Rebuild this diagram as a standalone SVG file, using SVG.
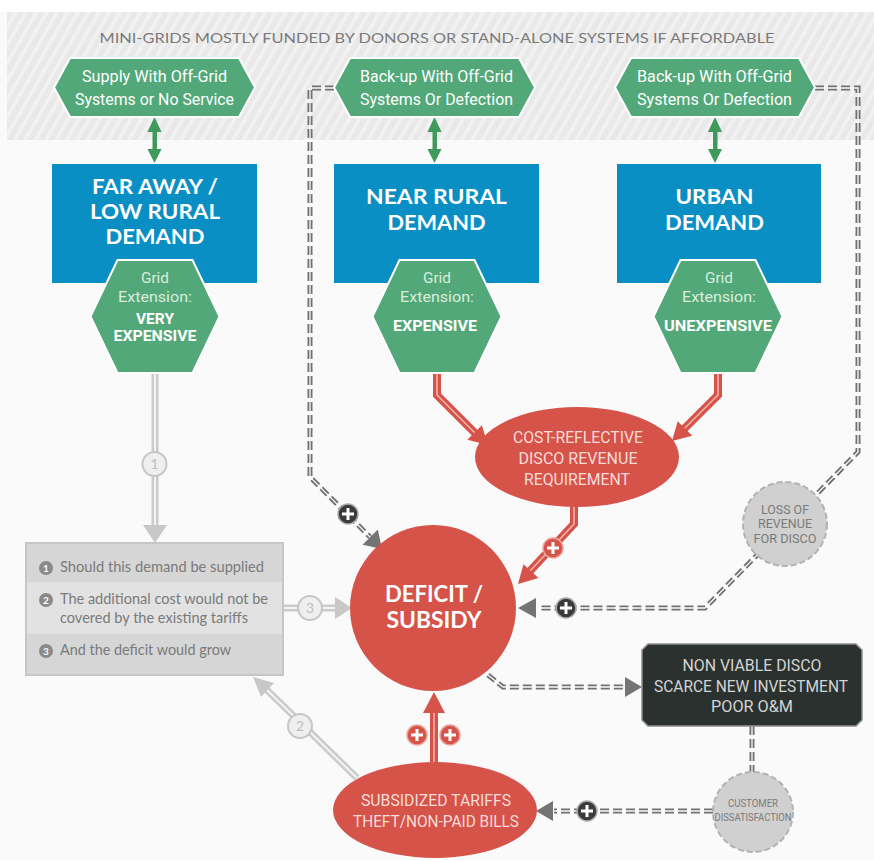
<svg xmlns="http://www.w3.org/2000/svg" width="874" height="860" viewBox="0 0 874 860">
<defs>
<pattern id="hatch" width="9" height="9" patternUnits="userSpaceOnUse" patternTransform="rotate(30)">
<rect width="9" height="9" fill="#e9e9e9"/>
<rect width="3.5" height="9" fill="#f2f2f2"/>
</pattern>
<style>
.cond{font-family:Roboto,"Liberation Sans",sans-serif;}
.sans{font-family:Lato,"Open Sans","Liberation Sans",sans-serif;}
.hexT{fill:#ffffff;font-size:16px;text-anchor:middle;}
.boxT{fill:#ffffff;font-size:21px;font-weight:bold;text-anchor:middle;}
.gridT{fill:#d9eedd;font-size:15px;text-anchor:middle;}
.gridB{fill:#ffffff;font-size:15px;font-weight:bold;text-anchor:middle;}
.redT{fill:#f7dcd8;font-size:16px;text-anchor:middle;}
.grayT{fill:#7a7a7a;font-size:15px;}
.num{fill:#8a8a8a;}
.numT{fill:#ffffff;font-size:10px;font-weight:bold;text-anchor:middle;}
.dashO{fill:none;stroke:#717171;stroke-width:5;stroke-dasharray:9 4;}
.dashI{fill:none;stroke:#fafafa;stroke-width:1.3;}
.redO{fill:none;stroke:#d6534a;stroke-width:8;}
.redI{fill:none;stroke:#f1b2aa;stroke-width:1.6;}
.grayO{fill:none;stroke:#cbcbcb;stroke-width:7;}
.grayI{fill:none;stroke:#f4f4f4;stroke-width:2;}
.plusD{fill:#393c3b;stroke:#a9a9a9;stroke-width:1.5;}
.plusR{fill:#d6534a;stroke:#eca39b;stroke-width:1.5;}
.plusL{stroke:#ffffff;stroke-width:3;}
.lab{fill:#efefef;stroke:#c6c6c6;stroke-width:2;}
.labT{fill:#bdbdbd;font-size:14px;text-anchor:middle;}
</style>
</defs>
<rect width="874" height="860" fill="#fafafa"/>
<rect x="0" y="0" width="874" height="12" fill="#ffffff"/>
<rect x="7" y="12" width="867" height="128" fill="url(#hatch)"/>
<text x="437" y="43" class="sans" fill="#7a7a7a" font-size="13.5" text-anchor="middle" textLength="675" lengthAdjust="spacingAndGlyphs">MINI-GRIDS MOSTLY FUNDED BY DONORS OR STAND-ALONE SYSTEMS IF AFFORDABLE</text>

<g id="connectors">
<!-- green double arrows -->
<g fill="#3f9a5c" stroke="none">
<rect x="152.5" y="130" width="4.5" height="21"/>
<polygon points="147.5,132 161.5,132 154.5,117"/>
<polygon points="147.5,149 161.5,149 154.5,163"/>
<rect x="432.5" y="130" width="4.5" height="21"/>
<polygon points="427.5,132 441.5,132 434.5,117"/>
<polygon points="427.5,149 441.5,149 434.5,163"/>
<rect x="713" y="130" width="4.5" height="21"/>
<polygon points="708,132 722,132 715,117"/>
<polygon points="708,149 722,149 715,163"/>
</g>
<!-- dashed dark connectors -->
<path class="dashO" d="M334,88 H310 V477 L370,537"/>
<path class="dashI" d="M334,88 H310 V477 L370,537"/>
<polygon points="382,549 377.8,529.6 362.6,544.8" fill="#747474"/>
<path class="dashO" d="M815,88 H858 V452 L705,608 H538"/>
<path class="dashI" d="M815,88 H858 V452 L705,608 H538"/>
<polygon points="518,608 536,598 536,618" fill="#747474"/>
<path class="dashO" d="M488,675 L503,687 H626"/>
<path class="dashI" d="M488,675 L503,687 H626"/>
<polygon points="642,687 625,677 625,697" fill="#747474"/>
<path class="dashO" d="M752,726 V772"/>
<path class="dashI" d="M752,726 V772"/>
<path class="dashO" d="M713,811 H554"/>
<path class="dashI" d="M713,811 H554"/>
<polygon points="536,811 553,801 553,821" fill="#747474"/>
<!-- red connectors -->
<path class="redO" d="M437,373 V395 L475,433"/>
<path class="redI" d="M437,373 V395 L475,433"/>
<polygon points="488,445 481.8,425.3 467.3,439.7" fill="#d6534a"/>
<path class="redO" d="M718,373 V395 L684,429"/>
<path class="redI" d="M718,373 V395 L684,429"/>
<polygon points="672,441 677.7,421.3 692.3,435.7" fill="#d6534a"/>
<path class="redO" d="M574,506 V524 L530,571"/>
<path class="redI" d="M574,506 V524 L530,571"/>
<polygon points="518,584 523.5,564.3 538.5,578" fill="#d6534a"/>
<path class="redO" d="M434,762 V710"/>
<path class="redI" d="M434,762 V710"/>
<polygon points="434,692 423,713 445,713" fill="#d6534a"/>
<!-- gray connectors -->
<path class="grayO" d="M155,373 V526"/>
<path class="grayI" d="M155,373 V526"/>
<polygon points="155,543 143,525 167,525" fill="#c8c8c8"/>
<path class="grayO" d="M283,608 H336"/>
<path class="grayI" d="M283,608 H336"/>
<polygon points="352,608 335,597 335,619" fill="#c8c8c8"/>
<path class="grayO" d="M357,778 L266,689"/>
<path class="grayI" d="M357,778 L266,689"/>
<polygon points="253,677 274,683 261,697" fill="#c8c8c8"/>
<!-- labels on gray connectors -->
<circle class="lab" cx="154.5" cy="464" r="12"/>
<text class="labT sans" x="154.5" y="469">1</text>
<circle class="lab" cx="310" cy="608" r="12"/>
<text class="labT sans" x="310" y="613">3</text>
<circle class="lab" cx="300" cy="726" r="12"/>
<text class="labT sans" x="300" y="731">2</text>
<!-- plus markers -->
<g>
<circle class="plusD" cx="348" cy="514" r="10"/>
<path class="plusL" d="M342,514 H354 M348,508 V520"/>
<circle class="plusD" cx="566" cy="608" r="10"/>
<path class="plusL" d="M560,608 H572 M566,602 V614"/>
<circle class="plusD" cx="587" cy="811" r="10"/>
<path class="plusL" d="M581,811 H593 M587,805 V817"/>
<circle class="plusR" cx="553" cy="548" r="10"/>
<path class="plusL" d="M547,548 H559 M553,542 V554"/>
<circle class="plusR" cx="417" cy="735" r="10"/>
<path class="plusL" d="M411,735 H423 M417,729 V741"/>
<circle class="plusR" cx="450" cy="735" r="10"/>
<path class="plusL" d="M444,735 H456 M450,729 V741"/>
</g>
</g>

<g id="top-hex-1">
<polygon points="54,87.5 70,58 239,58 255,87.5 239,117 70,117" fill="#52a878" stroke="#ffffff" stroke-width="2"/>
<text class="cond hexT" x="154.5" y="82" textLength="145" lengthAdjust="spacingAndGlyphs">Supply With Off-Grid</text>
<text class="cond hexT" x="154.5" y="105" textLength="159" lengthAdjust="spacingAndGlyphs">Systems or No Service</text>
</g>
<g id="top-hex-2">
<polygon points="334,87.5 350,58 519,58 535,87.5 519,117 350,117" fill="#52a878" stroke="#ffffff" stroke-width="2"/>
<text class="cond hexT" x="436.5" y="82" textLength="153" lengthAdjust="spacingAndGlyphs">Back-up With Off-Grid</text>
<text class="cond hexT" x="436.5" y="105" textLength="153" lengthAdjust="spacingAndGlyphs">Systems Or Defection</text>
</g>
<g id="top-hex-3">
<polygon points="615,87.5 631,58 799,58 815,87.5 799,117 631,117" fill="#52a878" stroke="#ffffff" stroke-width="2"/>
<text class="cond hexT" x="714.5" y="82" textLength="155" lengthAdjust="spacingAndGlyphs">Back-up With Off-Grid</text>
<text class="cond hexT" x="714.5" y="105" textLength="155" lengthAdjust="spacingAndGlyphs">Systems Or Defection</text>
</g>

<g id="box-far">
<rect x="52" y="164" width="205" height="119" fill="#0a8fc5"/>
<text class="sans boxT" x="155" y="194" textLength="126" lengthAdjust="spacingAndGlyphs">FAR AWAY /</text>
<text class="sans boxT" x="155" y="219" textLength="130" lengthAdjust="spacingAndGlyphs">LOW RURAL</text>
<text class="sans boxT" x="155" y="244" textLength="99" lengthAdjust="spacingAndGlyphs">DEMAND</text>
</g>
<g id="box-near">
<rect x="334" y="164" width="205" height="119" fill="#0a8fc5"/>
<text class="sans boxT" x="436.5" y="204" textLength="141" lengthAdjust="spacingAndGlyphs">NEAR RURAL</text>
<text class="sans boxT" x="436.5" y="230" textLength="98" lengthAdjust="spacingAndGlyphs">DEMAND</text>
</g>
<g id="box-urban">
<rect x="617" y="164" width="204" height="119" fill="#0a8fc5"/>
<text class="sans boxT" x="714.5" y="204" textLength="78" lengthAdjust="spacingAndGlyphs">URBAN</text>
<text class="sans boxT" x="714.5" y="230" textLength="99" lengthAdjust="spacingAndGlyphs">DEMAND</text>
</g>

<g id="hex-very-expensive">
<polygon points="117.5,260 192.5,260 219.5,316.5 192.5,373 117.5,373 90.5,316.5" fill="#52a878" stroke="#ffffff" stroke-width="2"/>
<text class="cond gridT" x="155" y="283" textLength="28" lengthAdjust="spacingAndGlyphs">Grid</text>
<text class="cond gridT" x="155" y="302" textLength="74" lengthAdjust="spacingAndGlyphs">Extension:</text>
<text class="cond gridB" x="155" y="324" textLength="38" lengthAdjust="spacingAndGlyphs">VERY</text>
<text class="cond gridB" x="155" y="341" textLength="83" lengthAdjust="spacingAndGlyphs">EXPENSIVE</text>
</g>
<g id="hex-expensive">
<polygon points="399.5,260 474.5,260 501.5,316.5 474.5,373 399.5,373 372.5,316.5" fill="#52a878" stroke="#ffffff" stroke-width="2"/>
<text class="cond gridT" x="437" y="283" textLength="28" lengthAdjust="spacingAndGlyphs">Grid</text>
<text class="cond gridT" x="437" y="302" textLength="74" lengthAdjust="spacingAndGlyphs">Extension:</text>
<text class="cond gridB" x="435" y="331" textLength="84" lengthAdjust="spacingAndGlyphs">EXPENSIVE</text>
</g>
<g id="hex-unexpensive">
<polygon points="680.5,260 755.5,260 782.5,316.5 755.5,373 680.5,373 653.5,316.5" fill="#52a878" stroke="#ffffff" stroke-width="2"/>
<text class="cond gridT" x="719" y="283" textLength="28" lengthAdjust="spacingAndGlyphs">Grid</text>
<text class="cond gridT" x="719" y="302" textLength="74" lengthAdjust="spacingAndGlyphs">Extension:</text>
<text class="cond gridB" x="718" y="331" textLength="108" lengthAdjust="spacingAndGlyphs">UNEXPENSIVE</text>
</g>

<g id="cost-reflective">
<ellipse cx="577" cy="457" rx="102" ry="50" fill="#d6534a"/>
<text class="cond redT" x="578" y="443" textLength="130" lengthAdjust="spacingAndGlyphs">COST-REFLECTIVE</text>
<text class="cond redT" x="578" y="464" textLength="119" lengthAdjust="spacingAndGlyphs">DISCO REVENUE</text>
<text class="cond redT" x="577" y="485" textLength="106" lengthAdjust="spacingAndGlyphs">REQUIREMENT</text>
</g>

<g id="deficit">
<circle cx="433" cy="608" r="83" fill="#d6534a"/>
<text class="sans" x="434" y="602" fill="#ffffff" font-size="23" font-weight="bold" text-anchor="middle" textLength="98" lengthAdjust="spacingAndGlyphs">DEFICIT /</text>
<text class="sans" x="434" y="628" fill="#ffffff" font-size="23" font-weight="bold" text-anchor="middle" textLength="95" lengthAdjust="spacingAndGlyphs">SUBSIDY</text>
</g>

<g id="questions">
<rect x="26" y="543" width="257" height="132" fill="#d6d6d6" stroke="#c6c6c6" stroke-width="2"/>
<rect x="27" y="582" width="255" height="52" fill="#e2e2e2"/>
<circle class="num" cx="46" cy="568" r="7"/>
<text class="sans numT" x="46" y="571.5">1</text>
<text class="sans grayT" x="60" y="572" textLength="204" lengthAdjust="spacingAndGlyphs">Should this demand be supplied</text>
<circle class="num" cx="46" cy="600" r="7"/>
<text class="sans numT" x="46" y="603.5">2</text>
<text class="sans grayT" x="60" y="604" textLength="208" lengthAdjust="spacingAndGlyphs">The additional cost would not be</text>
<text class="sans grayT" x="60" y="623" textLength="188" lengthAdjust="spacingAndGlyphs">covered by the existing tariffs</text>
<circle class="num" cx="46" cy="651" r="7"/>
<text class="sans numT" x="46" y="654.5">3</text>
<text class="sans grayT" x="60" y="655" textLength="171" lengthAdjust="spacingAndGlyphs">And the deficit would grow</text>
</g>

<g id="loss-of-revenue">
<circle cx="785" cy="524" r="42" fill="#d0d0d0" stroke="#b2b2b2" stroke-width="2" stroke-dasharray="6 3"/>
<text class="cond" x="785" y="514" fill="#7a7a7a" font-size="13" text-anchor="middle" textLength="48" lengthAdjust="spacingAndGlyphs">LOSS OF</text>
<text class="cond" x="785" y="528" fill="#7a7a7a" font-size="13" text-anchor="middle" textLength="54" lengthAdjust="spacingAndGlyphs">REVENUE</text>
<text class="cond" x="785" y="543" fill="#7a7a7a" font-size="13" text-anchor="middle" textLength="63" lengthAdjust="spacingAndGlyphs">FOR DISCO</text>
</g>

<g id="non-viable">
<polygon points="648,644 856,644 862,650 862,720 856,726 648,726 642,720 642,650" fill="#2b312f" stroke="#8e8e8e" stroke-width="1.5"/>
<text class="cond" x="752" y="671" fill="#d4d4d4" font-size="16" text-anchor="middle" textLength="139" lengthAdjust="spacingAndGlyphs">NON VIABLE DISCO</text>
<text class="cond" x="751" y="692" fill="#d4d4d4" font-size="16" text-anchor="middle" textLength="194" lengthAdjust="spacingAndGlyphs">SCARCE NEW INVESTMENT</text>
<text class="cond" x="752" y="712" fill="#d4d4d4" font-size="16" text-anchor="middle" textLength="82" lengthAdjust="spacingAndGlyphs">POOR O&amp;M</text>
</g>

<g id="customer-dissatisfaction">
<circle cx="753" cy="812" r="40" fill="#d0d0d0" stroke="#b2b2b2" stroke-width="2" stroke-dasharray="6 3"/>
<text class="cond" x="753" y="807" fill="#7a7a7a" font-size="11" text-anchor="middle" textLength="50" lengthAdjust="spacingAndGlyphs">CUSTOMER</text>
<text class="cond" x="753" y="821" fill="#7a7a7a" font-size="11" text-anchor="middle" textLength="77" lengthAdjust="spacingAndGlyphs">DISSATISFACTION</text>
</g>

<g id="subsidized-tariffs">
<ellipse cx="435" cy="810" rx="102" ry="48" fill="#d6534a"/>
<text class="cond redT" x="436" y="806" textLength="150" lengthAdjust="spacingAndGlyphs">SUBSIDIZED TARIFFS</text>
<text class="cond redT" x="436" y="827" textLength="166" lengthAdjust="spacingAndGlyphs">THEFT/NON-PAID BILLS</text>
</g>
</svg>
